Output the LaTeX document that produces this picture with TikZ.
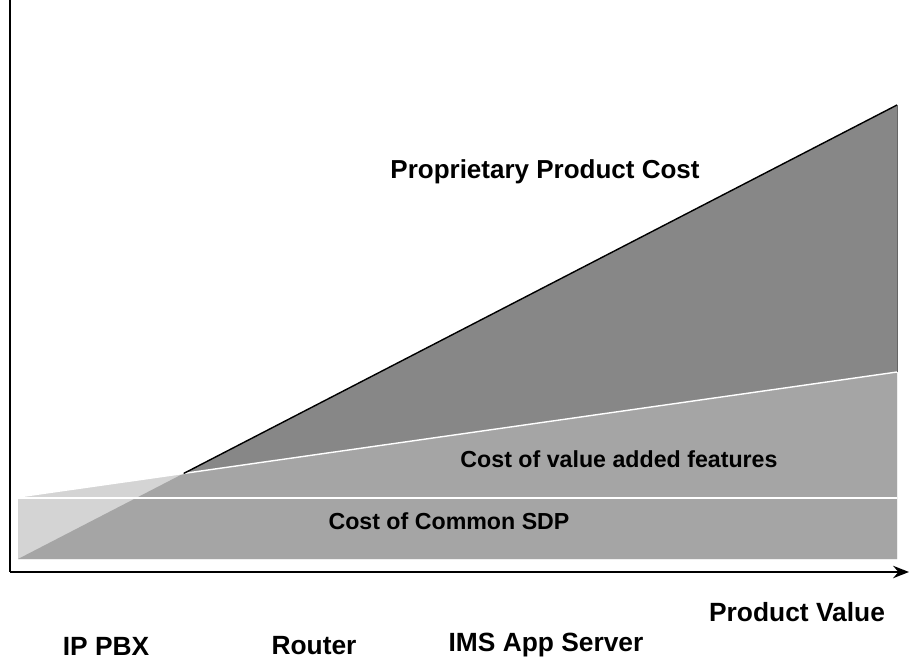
\documentclass[tikz,border=0pt]{standalone}
\usepackage{fontspec}
\setmainfont{Liberation Sans}
\usetikzlibrary{positioning,arrows.meta}
\definecolor{darkcost}{HTML}{878787}
\definecolor{midcost}{HTML}{A5A5A5}
\definecolor{lightcost}{HTML}{D4D4D4}
\begin{document}
\begin{tikzpicture}[x=0.02cm,y=-0.02cm,
  axis/.style={line width=1.4pt},
  lbl/.style={font=\bfseries\fontsize{15}{18}\selectfont,inner sep=0pt},
  inlbl/.style={font=\bfseries\fontsize{13.2}{16}\selectfont,inner sep=0pt}]
  \useasboundingbox (0,0) rectangle (911,658);
  \coordinate(O) at (10,572);
  \coordinate(ytop) at (10,0);
  \coordinate(xend) at (909,572);
  \coordinate(sdpL) at (18,559);
  \coordinate(sdpTL) at (18,498);
  \coordinate(sdpTR) at (897,498);
  \coordinate(featL) at (18,497);
  \coordinate(featR) at (897,372);
  \coordinate(top) at (897,105);
  \coordinate(base) at (897,559);
  \coordinate(cross) at (intersection of sdpL--top and featL--featR);
  % cost areas
  \fill[lightcost] (featL) -- (featR) -- (base) -- (sdpL) -- cycle;
  \fill[midcost] (sdpL) -- (top) -- (base) -- cycle;
  \fill[darkcost] (cross) -- (top) -- (featR) -- cycle;
  \draw[white,line width=0.8pt] (featL) -- (featR);
  \draw[white,line width=1.2pt] (sdpTL) -- (sdpTR);
  \draw[line width=0.8pt] (cross) -- (top);
  \draw[black!60,thin] (top) -- (featR);
  % axes
  \draw[axis] (ytop) -- (O);
  \draw[axis,-{Stealth[length=9pt,width=7pt]}] (O) -- (xend);
  % labels
  \node(propcost)[font=\bfseries\fontsize{14.8}{18}\selectfont,inner sep=0pt] at (545,172) {Proprietary Product Cost};
  \node(featcost)[inlbl] at (619,459) {Cost of value added features};
  \node(sdpcost)[inlbl] at (449,521) {Cost of Common SDP};
  \node(value)[lbl] at (797,612) {Product Value};
  \node(pbx)[lbl] at (106,646) {IP PBX};
  \node(router)[lbl] at (314,646) {Router};
  \node(ims)[lbl] at (546,645) {IMS App Server};
\end{tikzpicture}
\end{document}
